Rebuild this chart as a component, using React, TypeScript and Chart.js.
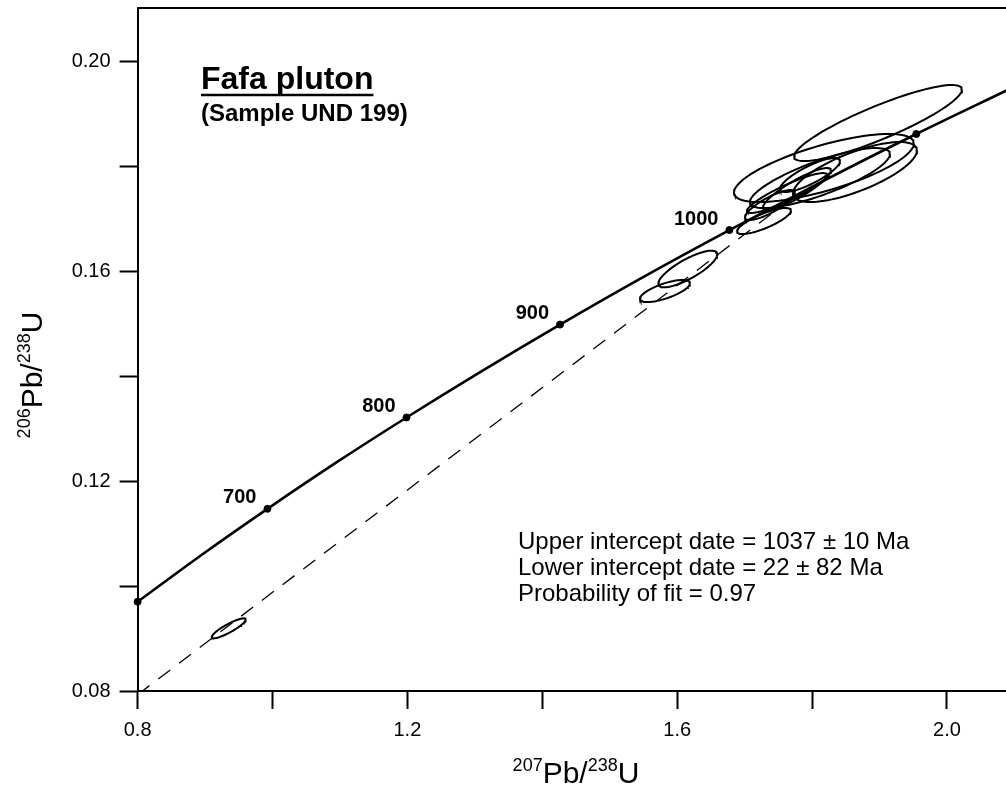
import React, { useEffect, useRef } from 'react';
import { Chart, registerables } from 'chart.js';

Chart.register(...registerables);

// ---- Data ----
// Concordia curve (ages in Ma) : 207Pb/235U (x) and 206Pb/238U (y)
const concordiaAges = [597, 650, 700, 750, 800, 850, 900, 950, 1000, 1050, 1100, 1145];
const concordiaX = [0.8, 0.8968, 0.9925, 1.0931, 1.1987, 1.3097, 1.4263, 1.5488, 1.6774, 1.8126, 1.9545, 2.0884];
const concordiaY = [0.097, 0.1061, 0.1147, 0.1234, 0.1321, 0.1409, 0.1498, 0.1588, 0.1678, 0.1769, 0.1861, 0.1944];

// Age markers on the concordia
const markerLabels = ['', '700', '800', '900', '1000', ''];
const markerX = [0.8, 0.9925, 1.1987, 1.4263, 1.6774, 1.9545];
const markerY = [0.097, 0.1147, 0.1321, 0.1498, 0.1678, 0.1861];

// Discordia (dashed regression line)
const discordiaX = [0.8, 1.7768];
const discordiaY = [0.0793, 0.1745];

// Error ellipses: centre, half-extent in x and y, error correlation
const ellipseX = [0.9351, 1.5819, 1.6157, 1.7287, 1.7376, 1.7628, 1.7776, 1.7969, 1.8117, 1.8176, 1.8636, 1.8977];
const ellipseY = [0.09194, 0.15619, 0.16038, 0.16952, 0.17257, 0.17486, 0.17562, 0.17829, 0.17771, 0.17962, 0.17886, 0.18819];
const ellipseSX = [0.0252, 0.0371, 0.0437, 0.04, 0.0371, 0.0593, 0.0504, 0.0445, 0.1038, 0.1334, 0.0919, 0.1245];
const ellipseSY = [0.0019, 0.0021, 0.00349, 0.00248, 0.00286, 0.0038, 0.004, 0.00324, 0.00571, 0.00648, 0.00571, 0.00724];
const ellipseRho = [0.88, 0.7, 0.8, 0.8, 0.82, 0.9, 0.88, 0.82, 0.8, 0.72, 0.72, 0.88];

// Axis ranges / ticks
const xMin = 0.8;
const xMax = 2.0875;
const xStep = 0.2;
const xLabelled = ['0.8', '1.2', '1.6', '2.0'];
const yMin = 0.08;
const yMax = 0.2101;
const yStep = 0.02;
const yLabelled = ['0.08', '0.12', '0.16', '0.20'];

const titleText = 'Fafa pluton';
const subtitleText = '(Sample UND 199)';
const statsLines = [
  ['Upper intercept date = 1037 ', '±', ' 10 Ma'],
  ['Lower intercept date = 22 ', '±', ' 82 Ma'],
  ['Probability of fit = 0.97', '', ''],
];

const FONT = '"Liberation Sans", Arial, Helvetica, sans-serif';

function ellipsePoints(cx: number, cy: number, sx: number, sy: number, rho: number) {
  const pts: { x: number; y: number }[] = [];
  const n = 90;
  const k = Math.sqrt(1 - rho * rho);
  for (let i = 0; i <= n; i++) {
    const t = (i / n) * Math.PI * 2;
    pts.push({ x: cx + sx * Math.cos(t), y: cy + sy * (rho * Math.cos(t) + k * Math.sin(t)) });
  }
  return pts;
}

function drawRich(
  ctx: CanvasRenderingContext2D,
  parts: { t: string; sup: boolean }[],
  x: number,
  y: number,
  big: number,
  small: number
) {
  let total = 0;
  const widths = parts.map((p) => {
    ctx.font = `${p.sup ? small : big}px ${FONT}`;
    const w = ctx.measureText(p.t).width;
    total += w;
    return w;
  });
  let cx = x - total / 2;
  parts.forEach((p, i) => {
    ctx.font = `${p.sup ? small : big}px ${FONT}`;
    ctx.fillText(p.t, cx, p.sup ? y - big * 0.4 : y);
    cx += widths[i];
  });
}

const annotationPlugin = {
  id: 'concordiaAnnotations',
  afterDraw(chart: any) {
    const ctx: CanvasRenderingContext2D = chart.ctx;
    const xs = chart.scales.x;
    const ys = chart.scales.y;
    const area = chart.chartArea;
    ctx.save();
    ctx.fillStyle = '#000';
    ctx.strokeStyle = '#000';

    // top frame line
    ctx.lineWidth = 2;
    ctx.beginPath();
    ctx.moveTo(area.left, area.top);
    ctx.lineTo(area.right, area.top);
    ctx.stroke();

    // age labels on concordia
    ctx.font = `bold 20px ${FONT}`;
    ctx.textAlign = 'right';
    ctx.textBaseline = 'middle';
    markerLabels.forEach((lab, i) => {
      if (!lab) return;
      const px = xs.getPixelForValue(markerX[i]);
      const py = ys.getPixelForValue(markerY[i]);
      ctx.fillText(lab, px - 11, py - 11);
    });

    // title
    ctx.textAlign = 'left';
    ctx.textBaseline = 'alphabetic';
    ctx.font = `bold 32px ${FONT}`;
    const tx = 201;
    ctx.fillText(titleText, tx, 89);
    const tw = ctx.measureText(titleText).width;
    ctx.lineWidth = 2.5;
    ctx.beginPath();
    ctx.moveTo(tx, 95);
    ctx.lineTo(tx + tw, 95);
    ctx.stroke();
    ctx.font = `bold 24px ${FONT}`;
    ctx.fillText(subtitleText, tx, 121);

    // stats
    ctx.font = `24px ${FONT}`;
    statsLines.forEach((parts, i) => {
      const y = 549 + i * 26;
      let x = 518;
      ctx.fillText(parts[0], x, y);
      x += ctx.measureText(parts[0]).width;
      if (parts[1]) {
        ctx.fillText(parts[1], x, y);
        x += ctx.measureText(parts[1]).width;
        ctx.fillText(parts[2], x, y);
      }
    });

    // x axis title
    ctx.textAlign = 'left';
    drawRich(
      ctx,
      [
        { t: '207', sup: true },
        { t: 'Pb/', sup: false },
        { t: '238', sup: true },
        { t: 'U', sup: false },
      ],
      576,
      783,
      30,
      18
    );

    // y axis title
    ctx.translate(42, 375);
    ctx.rotate(-Math.PI / 2);
    drawRich(
      ctx,
      [
        { t: '206', sup: true },
        { t: 'Pb/', sup: false },
        { t: '238', sup: true },
        { t: 'U', sup: false },
      ],
      0,
      0,
      30,
      18
    );
    ctx.restore();
  },
};

export default function App() {
  const ref = useRef<HTMLCanvasElement | null>(null);

  useEffect(() => {
    if (!ref.current) return;

    const datasets: any[] = [];
    ellipseX.forEach((cx, i) => {
      datasets.push({
        type: 'line',
        data: ellipsePoints(cx, ellipseY[i], ellipseSX[i], ellipseSY[i], ellipseRho[i]),
        borderColor: '#000',
        borderWidth: 2,
        pointRadius: 0,
        fill: false,
        tension: 0,
        showLine: true,
      });
    });
    datasets.push({
      type: 'line',
      label: 'Discordia',
      data: discordiaX.map((x, i) => ({ x, y: discordiaY[i] })),
      borderColor: '#000',
      borderWidth: 1.3,
      borderDash: [15, 11],
      pointRadius: 0,
      fill: false,
    });
    datasets.push({
      type: 'line',
      label: 'Concordia',
      data: concordiaX.map((x, i) => ({ x, y: concordiaY[i], age: concordiaAges[i] })),
      borderColor: '#000',
      borderWidth: 2.6,
      pointRadius: 0,
      fill: false,
      tension: 0.4,
      cubicInterpolationMode: 'monotone',
    });
    datasets.push({
      type: 'scatter',
      label: 'Age markers',
      data: markerX.map((x, i) => ({ x, y: markerY[i] })),
      backgroundColor: '#000',
      borderColor: '#000',
      pointRadius: 3.5,
      clip: false,
    });

    const zeroPad = (s: any) => {
      s.paddingTop = 0;
      s.paddingBottom = 0;
      s.paddingLeft = 0;
      s.paddingRight = 0;
    };

    const chart = new Chart(ref.current, {
      type: 'scatter',
      data: { datasets },
      options: {
        animation: false,
        responsive: false,
        devicePixelRatio: 1,
        layout: { autoPadding: false, padding: { top: 8, right: 0, left: 0, bottom: 0 } },
        plugins: { legend: { display: false }, tooltip: { enabled: false } },
        scales: {
          x: {
            type: 'linear',
            min: xMin,
            max: xMax,
            afterFit: (s: any) => {
              s.height = 96;
              zeroPad(s);
            },
            ticks: {
              stepSize: xStep,
              includeBounds: false,
              autoSkip: false,
              maxRotation: 0,
              padding: 9,
              color: '#000',
              font: { family: FONT, size: 20 },
              callback: (v: any) => {
                const s = Number(v).toFixed(1);
                return xLabelled.includes(s) ? s : '';
              },
            },
            grid: {
              drawOnChartArea: false,
              drawTicks: true,
              tickLength: 18,
              tickWidth: 2,
              tickColor: '#000',
            },
            border: { display: true, color: '#000', width: 2 },
          },
          y: {
            type: 'linear',
            min: yMin,
            max: yMax,
            afterFit: (s: any) => {
              s.width = 137.6;
              zeroPad(s);
            },
            ticks: {
              stepSize: yStep,
              includeBounds: false,
              autoSkip: false,
              padding: 9,
              color: '#000',
              font: { family: FONT, size: 20 },
              callback: (v: any) => {
                const s = Number(v).toFixed(2);
                return yLabelled.includes(s) ? s : '';
              },
            },
            grid: {
              drawOnChartArea: false,
              drawTicks: true,
              tickLength: 18,
              tickWidth: 2,
              tickColor: '#000',
            },
            border: { display: true, color: '#000', width: 2 },
          },
        },
      },
      plugins: [annotationPlugin],
    } as any);

    return () => chart.destroy();
  }, []);

  return (
    <div style={{ position: 'fixed', left: 0, top: 0, width: 1006, height: 787, background: '#fff' }}>
      <canvas ref={ref} width={1006} height={787} style={{ display: 'block' }} />
    </div>
  );
}
